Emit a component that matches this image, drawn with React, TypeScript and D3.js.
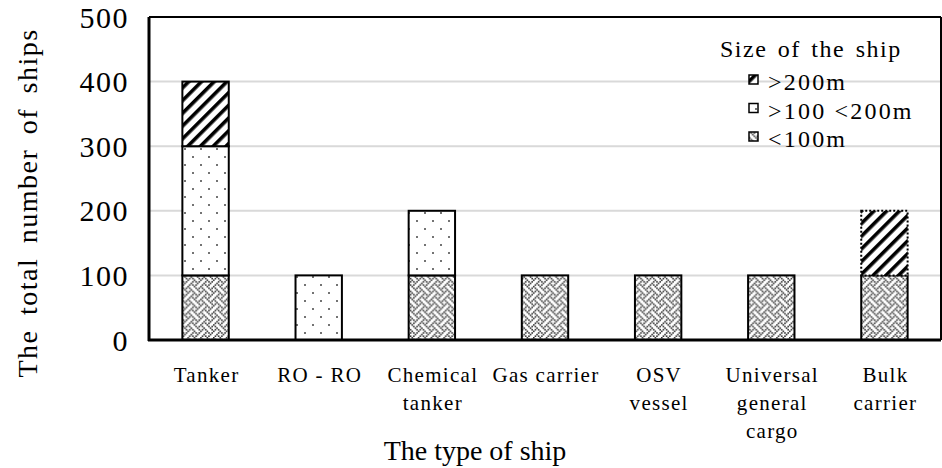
import { useEffect, useRef } from 'react'
import * as d3 from 'd3'

// chart data
const categories = ['Tanker', 'RO - RO', 'Chemical tanker', 'Gas carrier', 'OSV vessel', 'Universal general cargo', 'Bulk carrier']
const categoryLines = [['Tanker'], ['RO - RO'], ['Chemical', 'tanker'], ['Gas carrier'], ['OSV', 'vessel'], ['Universal', 'general', 'cargo'], ['Bulk', 'carrier']]
const seriesNames = ['<100m', '>100 <200m', '>200m']
const under100 = [100, 0, 100, 100, 100, 100, 100]
const from100to200 = [200, 100, 100, 0, 0, 0, 0]
const over200 = [100, 0, 0, 0, 0, 0, 100]
const yTicks = [0, 100, 200, 300, 400, 500]
const dottedOutline = [['Bulk carrier', '>200m']]

const FONT = '"Liberation Serif", "Times New Roman", serif'

// windows-style weave brush
const WEAVE = [
  '10001000',
  '01000101',
  '00100010',
  '01010001',
  '10001000',
  '00010101',
  '00100010',
  '01010100',
]

export default function App() {
  const svgRef = useRef<SVGSVGElement>(null)

  useEffect(() => {
    const el = svgRef.current
    if (!el) return
    const width = 942
    const height = 468
    const margin = { top: 17, right: 1, bottom: 128, left: 149 }
    const innerW = width - margin.left - margin.right
    const innerH = height - margin.top - margin.bottom

    const svg = d3.select(el)
    svg.selectAll('*').remove()
    svg.attr('width', width).attr('height', height)

    const defs = svg.append('defs')

    // <100m weave
    const ps = 1.6
    const weave = defs.append('pattern').attr('id', 'pat-weave')
      .attr('patternUnits', 'userSpaceOnUse').attr('width', 8 * ps).attr('height', 8 * ps)
    weave.append('rect').attr('width', 8 * ps).attr('height', 8 * ps).attr('fill', '#fff')
    WEAVE.forEach((row, r) => {
      row.split('').forEach((b, c) => {
        if (b === '1') weave.append('rect').attr('x', c * ps).attr('y', r * ps)
          .attr('width', ps).attr('height', ps).attr('fill', '#333')
      })
    })

    // 100-200m dots
    const dots = defs.append('pattern').attr('id', 'pat-dots')
      .attr('patternUnits', 'userSpaceOnUse').attr('width', 16).attr('height', 16)
    dots.append('rect').attr('width', 16).attr('height', 16).attr('fill', '#fff')
    dots.append('circle').attr('cx', 4).attr('cy', 4).attr('r', 1).attr('fill', '#444')
    dots.append('circle').attr('cx', 12).attr('cy', 12).attr('r', 1).attr('fill', '#444')

    // >200m stripes
    const stripes = defs.append('pattern').attr('id', 'pat-stripes')
      .attr('patternUnits', 'userSpaceOnUse').attr('width', 9).attr('height', 9)
      .attr('patternTransform', 'rotate(45)')
    stripes.append('rect').attr('width', 9).attr('height', 9).attr('fill', '#fff')
    stripes.append('rect').attr('width', 3.6).attr('height', 9).attr('fill', '#000')

    const fills: Record<string, string> = {
      '<100m': 'url(#pat-weave)',
      '>100 <200m': 'url(#pat-dots)',
      '>200m': 'url(#pat-stripes)',
    }

    const rows = categories.map((c, i) => ({
      cat: c, '<100m': under100[i], '>100 <200m': from100to200[i], '>200m': over200[i],
    }))
    const stacked = d3.stack<any>().keys(seriesNames)(rows)

    const x = d3.scaleBand().domain(categories).range([0, innerW]).padding(0)
    const y = d3.scaleLinear().domain([0, 500]).range([innerH, 0])
    const barW = x.bandwidth() * 0.41

    const g = svg.append('g').attr('transform', `translate(${margin.left},${margin.top})`)

    // gridlines
    g.append('g').selectAll('line').data(yTicks.filter((t) => t > 0 && t < 500)).join('line')
      .attr('x1', 0).attr('x2', innerW).attr('y1', (d) => y(d)).attr('y2', (d) => y(d))
      .attr('stroke', '#d9d9d9').attr('stroke-width', 2)

    // bars
    stacked.forEach((s) => {
      g.append('g').selectAll('rect').data(s.filter((d) => d[1] - d[0] > 0)).join('rect')
        .attr('x', (d) => x(d.data.cat)! + (x.bandwidth() - barW) / 2)
        .attr('width', barW)
        .attr('y', (d) => y(d[1]))
        .attr('height', (d) => y(d[0]) - y(d[1]))
        .attr('fill', fills[s.key])
        .attr('stroke', '#000')
        .attr('stroke-width', 2)
        .attr('stroke-dasharray', (d) =>
          dottedOutline.some(([c, k]) => c === d.data.cat && k === s.key) ? '2,2' : null)
    })

    // frame
    g.append('line').attr('x1', 0).attr('x2', innerW).attr('y1', 0).attr('y2', 0)
      .attr('stroke', '#000').attr('stroke-width', 2)
    g.append('line').attr('x1', innerW).attr('x2', innerW).attr('y1', 0).attr('y2', innerH)
      .attr('stroke', '#000').attr('stroke-width', 2)
    g.append('line').attr('x1', 0).attr('x2', 0).attr('y1', 0).attr('y2', innerH + 1)
      .attr('stroke', '#000').attr('stroke-width', 3)
    g.append('line').attr('x1', -1).attr('x2', innerW).attr('y1', innerH).attr('y2', innerH)
      .attr('stroke', '#000').attr('stroke-width', 3)

    // y tick labels
    g.append('g').selectAll('text').data(yTicks).join('text')
      .attr('x', -20).attr('y', (d) => y(d)).attr('dy', '0.35em')
      .attr('text-anchor', 'end').attr('font-family', FONT).attr('font-size', 30)
      .attr('letter-spacing', 1.5)
      .text((d) => d)

    // x tick labels
    categoryLines.forEach((lines, i) => {
      const cx = x(categories[i])! + x.bandwidth() / 2 + 1
      const t = g.append('text').attr('text-anchor', 'middle')
        .attr('font-family', FONT).attr('font-size', 21).attr('letter-spacing', 1.3)
        .attr('x', cx).attr('y', innerH + 42)
      lines.forEach((l, j) => t.append('tspan').attr('x', cx)
        .attr('dy', j === 0 ? 0 : 28).text(l))
    })

    // axis titles
    svg.append('text').attr('x', margin.left + innerW / 2 - 70).attr('y', 460)
      .attr('text-anchor', 'middle').attr('font-family', FONT).attr('font-size', 28)
      .text('The type of ship')
    svg.append('text').attr('transform', `translate(37,203) rotate(-90)`)
      .attr('text-anchor', 'middle').attr('font-family', FONT).attr('font-size', 28)
      .attr('letter-spacing', 1.5).attr('word-spacing', 6)
      .text('The total number of ships')

    // legend
    const lg = svg.append('g').attr('transform', 'translate(720,57)')
    lg.append('text').attr('font-family', FONT).attr('font-size', 24)
      .attr('letter-spacing', 1.5).attr('word-spacing', 3)
      .text('Size of the ship')
    const legendItems = seriesNames.slice().reverse()
    legendItems.forEach((k, i) => {
      const yy = 33 + i * 28.5
      lg.append('rect').attr('x', 29).attr('y', yy - 15).attr('width', 9).attr('height', 9)
        .attr('fill', fills[k]).attr('stroke', '#000').attr('stroke-width', 1.5)
      lg.append('text').attr('x', 48).attr('y', yy).attr('font-family', FONT).attr('font-size', 24)
        .attr('letter-spacing', 2.2)
        .text(k)
    })
  }, [])

  return (
    <div style={{ position: 'absolute', left: 0, top: 0, width: 942, height: 468, background: '#fff' }}>
      <svg ref={svgRef} style={{ display: 'block' }} />
    </div>
  )
}
